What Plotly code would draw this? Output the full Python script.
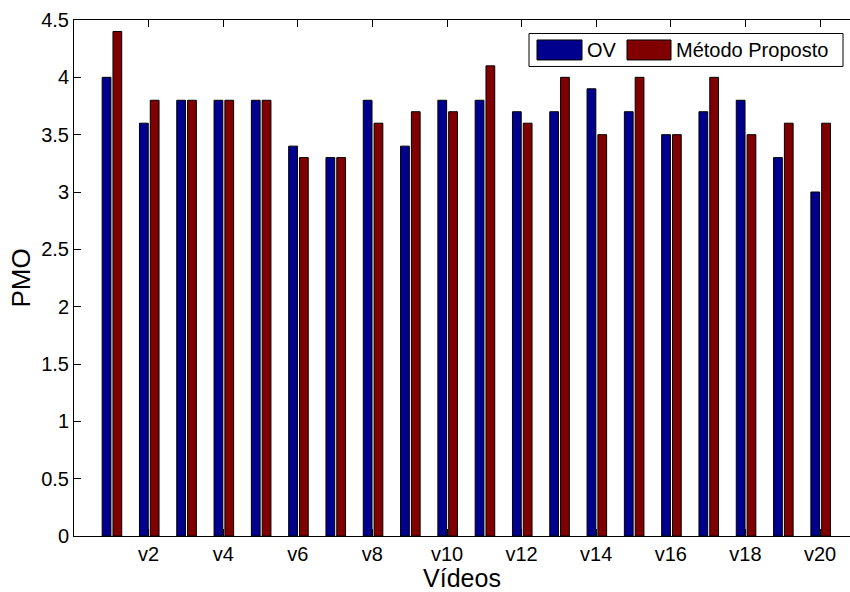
import plotly.graph_objects as go

videos = list(range(1, 21))
ov = [4.0, 3.6, 3.8, 3.8, 3.8, 3.4, 3.3, 3.8, 3.4, 3.8,
      3.8, 3.7, 3.7, 3.9, 3.7, 3.5, 3.7, 3.8, 3.3, 3.0]
proposto = [4.4, 3.8, 3.8, 3.8, 3.8, 3.3, 3.3, 3.6, 3.7, 3.7,
            4.1, 3.6, 4.0, 3.5, 4.0, 3.5, 4.0, 3.5, 3.6, 3.6]
tick_vals = [2, 4, 6, 8, 10, 12, 14, 16, 18, 20]
tick_text = ["v2", "v4", "v6", "v8", "v10", "v12", "v14", "v16", "v18", "v20"]
y_ticks = [0, 0.5, 1, 1.5, 2, 2.5, 3, 3.5, 4, 4.5]
y_text = ["0", "0.5", "1", "1.5", "2", "2.5", "3", "3.5", "4", "4.5"]
series_names = ["OV", "Método Proposto"]

BLUE = "#00008F"
RED = "#800000"
FONT = "Liberation Sans, Arial, sans-serif"

W, H = 850, 592
L, T, B = 74, 19.5, 56
plot_w = W - L
plot_h = H - T - B

def px(x):
    return (x - L) / plot_w

def py(y):
    return (H - B - y) / plot_h

fig = go.Figure()
fig.add_trace(go.Bar(x=videos, y=ov, name=series_names[0], offset=-0.245, width=0.235,
                     marker=dict(color=BLUE, line=dict(color="black", width=1)),
                     showlegend=False))
fig.add_trace(go.Bar(x=videos, y=proposto, name=series_names[1], offset=0.045, width=0.235,
                     marker=dict(color=RED, line=dict(color="black", width=1)),
                     showlegend=False))

# custom MATLAB-like legend
shapes = [
    dict(type="rect", xref="paper", yref="paper", x0=px(529), x1=px(843), y0=py(66), y1=py(33),
         line=dict(color="black", width=1), fillcolor="white", layer="above"),
    dict(type="rect", xref="paper", yref="paper", x0=px(537), x1=px(582), y0=py(59.5), y1=py(39.5),
         line=dict(color="black", width=1), fillcolor=BLUE, layer="above"),
    dict(type="rect", xref="paper", yref="paper", x0=px(627), x1=px(671), y0=py(59.5), y1=py(39.5),
         line=dict(color="black", width=1), fillcolor=RED, layer="above"),
]
annotations = [
    dict(xref="paper", yref="paper", x=px(585), y=py(49.5), text=series_names[0], showarrow=False,
         xanchor="left", yanchor="middle", font=dict(family=FONT, size=20, color="black")),
    dict(xref="paper", yref="paper", x=px(674), y=py(49.5), text=series_names[1], showarrow=False,
         xanchor="left", yanchor="middle", font=dict(family=FONT, size=20, color="black")),
]

fig.update_layout(
    width=W, height=H,
    margin=dict(l=L, r=0, t=T, b=B),
    paper_bgcolor="white", plot_bgcolor="white",
    barmode="overlay",
    shapes=shapes, annotations=annotations,
    font=dict(family=FONT, size=20, color="black"),
    xaxis=dict(range=[0, plot_w / 37.3], tickmode="array", tickvals=tick_vals, ticktext=tick_text,
               ticks="inside", ticklen=7, tickcolor="black", showline=True, linecolor="black",
               linewidth=1, mirror="ticks", showgrid=False, zeroline=False,
               tickfont=dict(family=FONT, size=20, color="black"),
               title=dict(text="Vídeos", font=dict(family=FONT, size=25, color="black"), standoff=10)),
    yaxis=dict(range=[0, 4.5], tickmode="array", tickvals=y_ticks, ticktext=y_text,
               ticks="inside", ticklen=7, tickcolor="black", showline=True, linecolor="black",
               linewidth=1, showgrid=False, zeroline=False,
               tickfont=dict(family=FONT, size=20, color="black"),
               title=dict(text="PMO", font=dict(family=FONT, size=26, color="black"), standoff=3)),
)

fig.write_html("out.html")
